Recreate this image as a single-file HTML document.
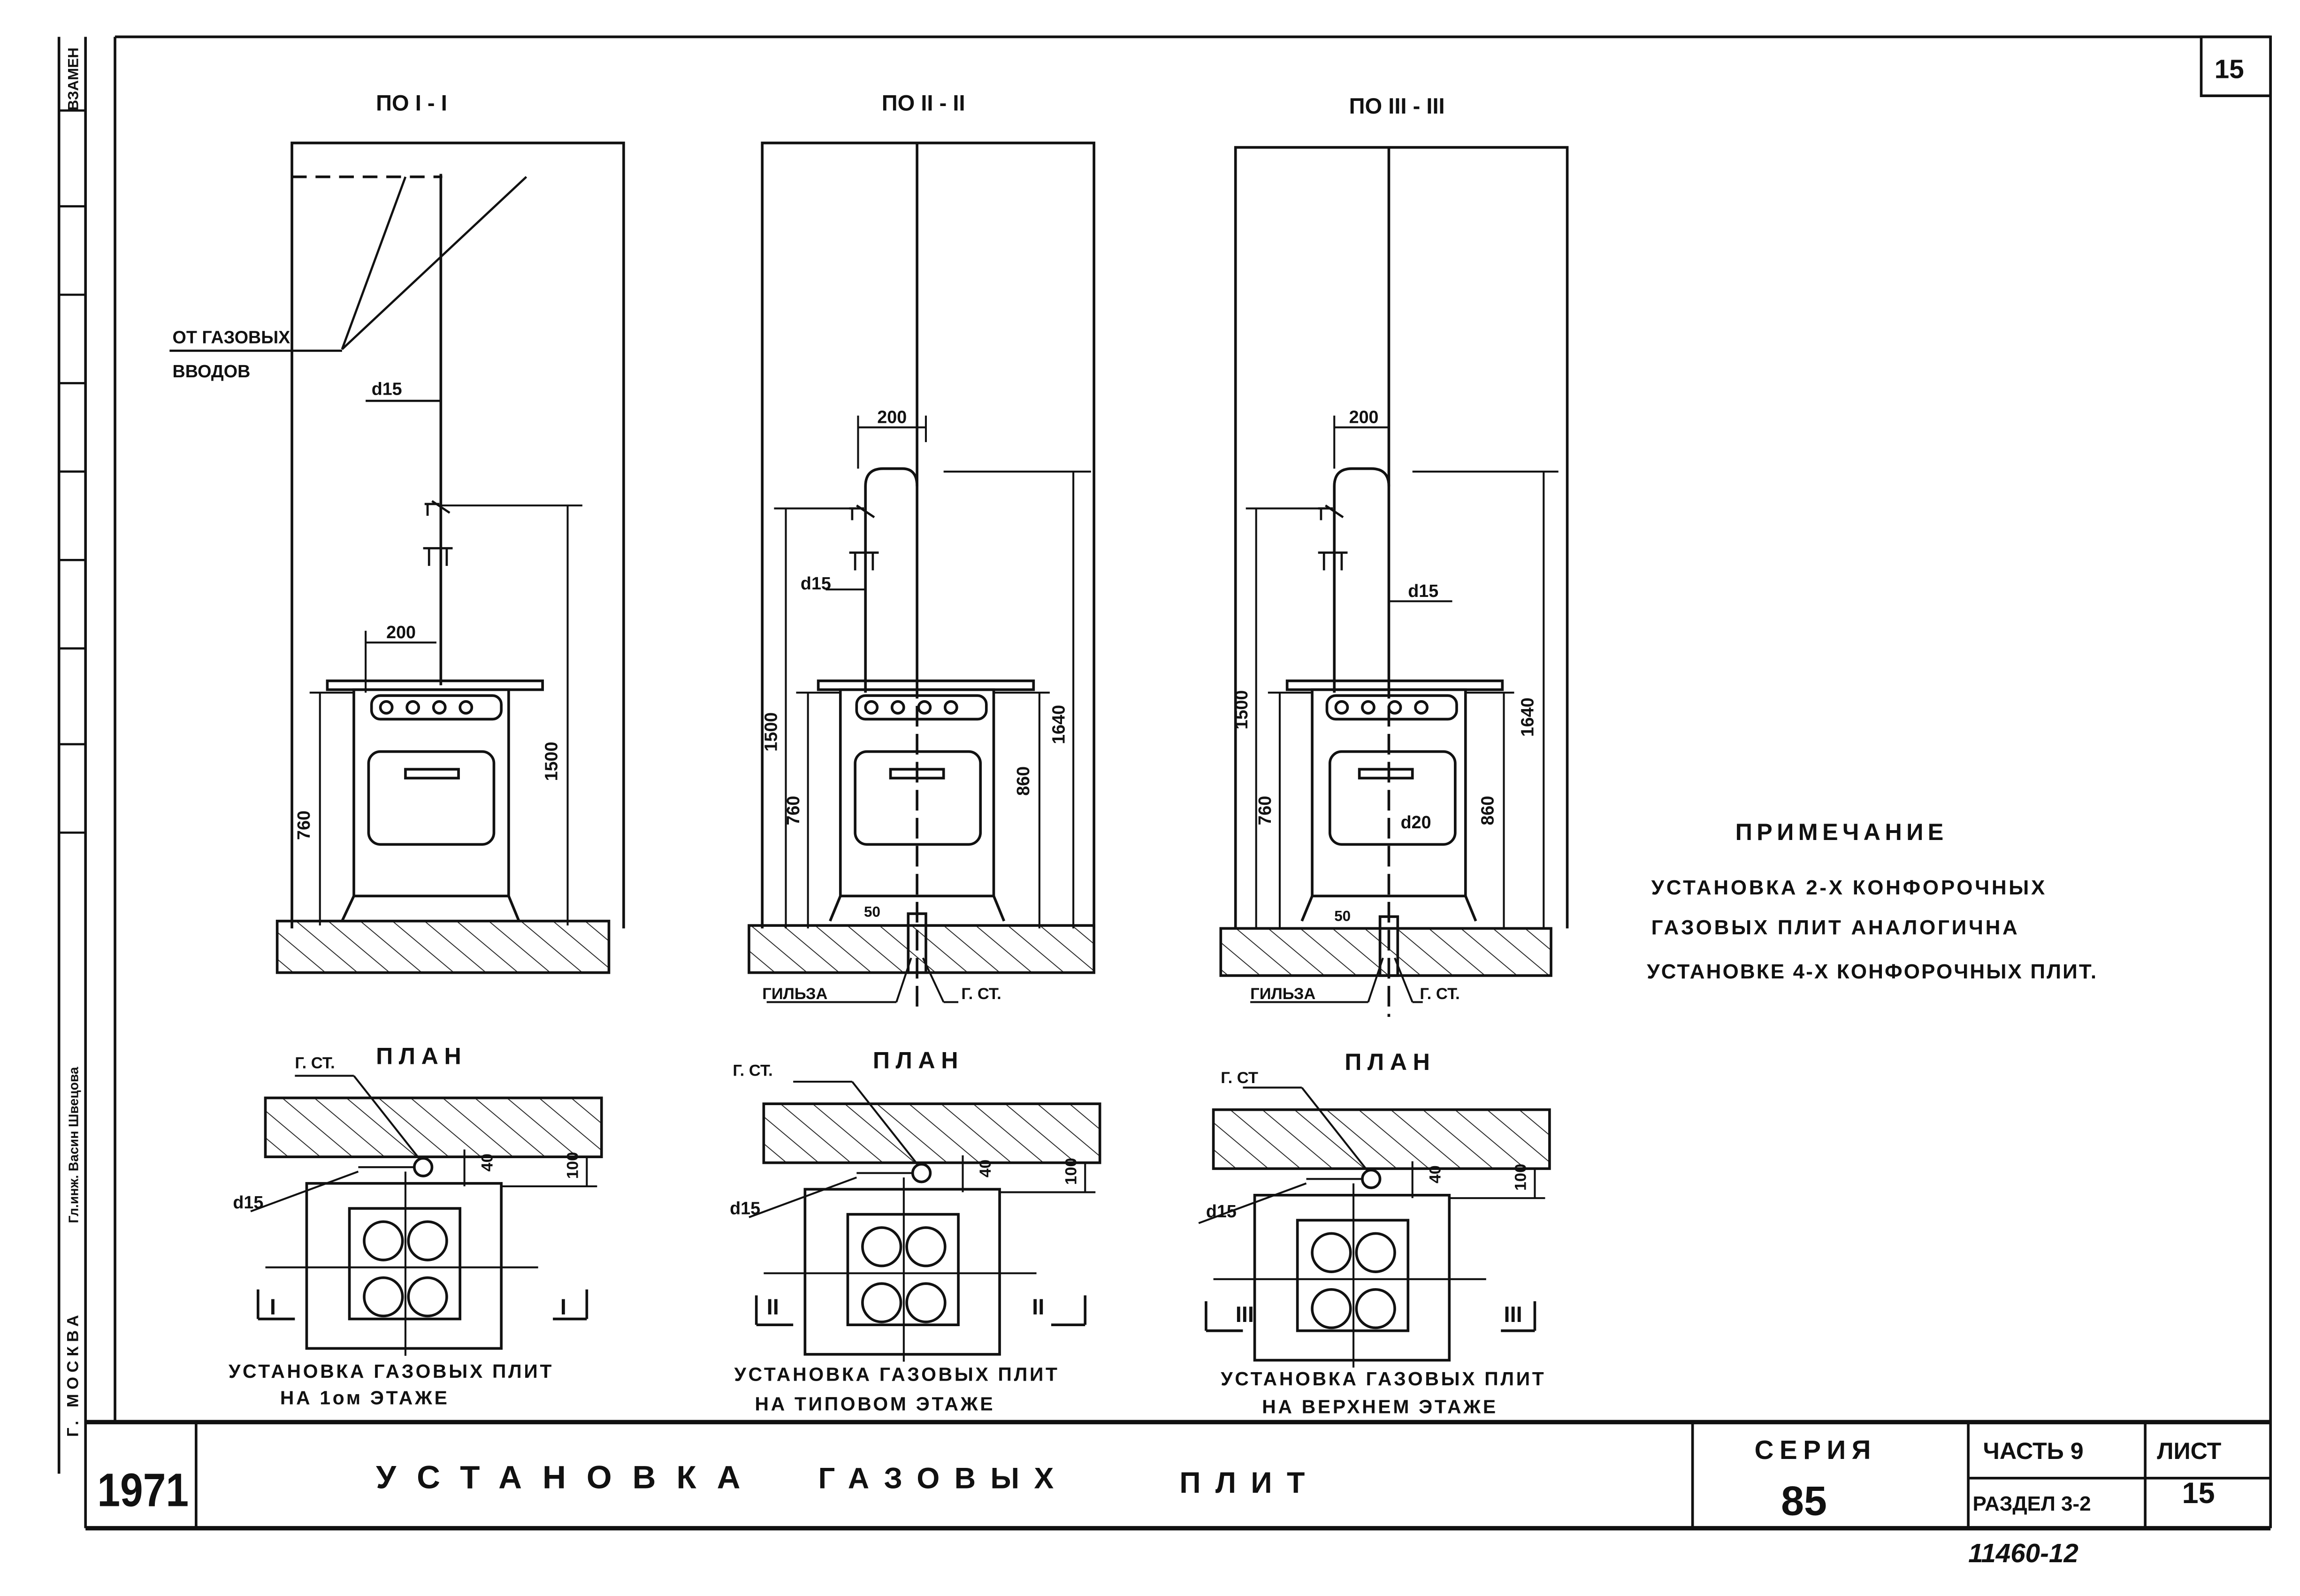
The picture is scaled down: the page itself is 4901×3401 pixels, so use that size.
<!DOCTYPE html>
<html><head><meta charset="utf-8"><style>
html,body{margin:0;padding:0;background:#fff;}
svg{display:block;}
text{font-family:"Liberation Sans","Noto Sans CJK SC",sans-serif;font-weight:bold;fill:#111;}
</style></head><body>
<svg width="4901" height="3401" viewBox="0 0 1560 1083" preserveAspectRatio="none" xmlns="http://www.w3.org/2000/svg">
<defs>
<pattern id="h" width="14" height="14" patternUnits="userSpaceOnUse" patternTransform="rotate(-50)">
<line x1="0" y1="0" x2="0" y2="14" stroke="#222" stroke-width="1.2"/></pattern>
</defs>
<rect width="1560" height="1083" fill="#fff"/>
<g fill="none" stroke="#111" stroke-width="1.8">
<line x1="78" y1="25" x2="1540" y2="25"/>
<line x1="1540" y1="25" x2="1540" y2="1037"/>
<line x1="78" y1="25" x2="78" y2="965"/>
<line x1="58" y1="25" x2="58" y2="1037"/>
<line x1="40" y1="25" x2="40" y2="1000"/>
<rect x="1493" y="25" width="47" height="40"/>
<line x1="58" y1="965" x2="1540" y2="965" stroke-width="3"/>
<line x1="58" y1="1037" x2="1540" y2="1037" stroke-width="3"/>
<line x1="133" y1="965" x2="133" y2="1037"/>
<line x1="1148" y1="965" x2="1148" y2="1037"/>
<line x1="1335" y1="965" x2="1335" y2="1037"/>
<line x1="1455" y1="965" x2="1455" y2="1037"/>
<line x1="1335" y1="1003" x2="1540" y2="1003"/>
<g stroke-width="1.5">
<line x1="40" y1="75" x2="58" y2="75"/><line x1="40" y1="140" x2="58" y2="140"/><line x1="40" y1="200" x2="58" y2="200"/>
<line x1="40" y1="260" x2="58" y2="260"/><line x1="40" y1="320" x2="58" y2="320"/><line x1="40" y1="380" x2="58" y2="380"/>
<line x1="40" y1="440" x2="58" y2="440"/><line x1="40" y1="505" x2="58" y2="505"/><line x1="40" y1="565" x2="58" y2="565"/>
</g>

<polyline points="198,630 198,97 423,97 423,630"/>
<rect x="188" y="625" width="225" height="35" fill="url(#h)"/>
<line x1="299" y1="118" x2="299" y2="465"/>
<line x1="198" y1="120" x2="300" y2="120" stroke-dasharray="10,6"/>
<line x1="232" y1="237" x2="275" y2="120" stroke-width="1.5"/>
<line x1="232" y1="237" x2="357" y2="120" stroke-width="1.5"/>
<line x1="115" y1="238" x2="232" y2="238" stroke-width="1.5"/>
<line x1="248" y1="272" x2="299" y2="272" stroke-width="1.5"/>
<path d="M288,342 h10 M290,342 v8 M293,340 l12,8" stroke-width="1.5"/>
<path d="M287,372 h20 M291,372 v12 M303,372 v12" stroke-width="1.5"/>
<rect x="222" y="462" width="146" height="6"/>
<rect x="240" y="468" width="105" height="140"/>
<rect x="252" y="472" width="88" height="16" rx="6"/>
<circle cx="262" cy="480" r="4"/><circle cx="280" cy="480" r="4"/><circle cx="298" cy="480" r="4"/><circle cx="316" cy="480" r="4"/>
<rect x="250" y="510" width="85" height="63" rx="8"/>
<rect x="275" y="522" width="36" height="6"/>
<line x1="240" y1="608" x2="232" y2="625"/><line x1="345" y1="608" x2="352" y2="625"/>
<g stroke-width="1.3">
<line x1="217" y1="470" x2="217" y2="628"/><line x1="210" y1="470" x2="240" y2="470"/>
<line x1="385" y1="343" x2="385" y2="628"/><line x1="299" y1="343" x2="395" y2="343"/>
<line x1="248" y1="436" x2="296" y2="436"/><line x1="248" y1="428" x2="248" y2="470"/>
</g>

<polyline points="517,630 517,97 742,97 742,630"/>
<rect x="508" y="628" width="234" height="32" fill="url(#h)"/>
<line x1="622" y1="97" x2="622" y2="460"/>
<path d="M587,470 V330 Q587,318 599,318 H612 Q622,318 622,330"/>
<line x1="622" y1="460" x2="622" y2="688" stroke-dasharray="14,5"/>
<rect x="616" y="620" width="12" height="40"/>
<path d="M576,345 h10 M578,345 v8 M581,343 l12,8" stroke-width="1.5"/>
<path d="M576,375 h20 M580,375 v12 M592,375 v12" stroke-width="1.5"/>
<rect x="555" y="462" width="146" height="6"/>
<rect x="570" y="468" width="104" height="140"/>
<rect x="581" y="472" width="88" height="16" rx="6"/>
<circle cx="591" cy="480" r="4"/><circle cx="609" cy="480" r="4"/><circle cx="627" cy="480" r="4"/><circle cx="645" cy="480" r="4"/>
<rect x="580" y="510" width="85" height="63" rx="8"/>
<rect x="604" y="522" width="36" height="6"/>
<line x1="570" y1="608" x2="563" y2="625"/><line x1="674" y1="608" x2="681" y2="625"/>
<g stroke-width="1.3">
<line x1="533" y1="345" x2="533" y2="630"/><line x1="525" y1="345" x2="580" y2="345"/>
<line x1="548" y1="470" x2="548" y2="630"/><line x1="540" y1="470" x2="570" y2="470"/>
<line x1="705" y1="470" x2="705" y2="630"/><line x1="674" y1="470" x2="712" y2="470"/>
<line x1="728" y1="320" x2="728" y2="630"/><line x1="640" y1="320" x2="740" y2="320"/>
<line x1="582" y1="290" x2="628" y2="290"/><line x1="582" y1="282" x2="582" y2="318"/><line x1="628" y1="282" x2="628" y2="300"/>
<line x1="560" y1="400" x2="587" y2="400"/>
<line x1="520" y1="680" x2="608" y2="680"/><line x1="608" y1="680" x2="618" y2="650"/>
<line x1="650" y1="680" x2="640" y2="680"/><line x1="640" y1="680" x2="626" y2="650"/>
</g>

<polyline points="838,630 838,100 1063,100 1063,630"/>
<rect x="828" y="630" width="224" height="32" fill="url(#h)"/>
<line x1="942" y1="100" x2="942" y2="460"/>
<path d="M905,470 V330 Q905,318 917,318 H930 Q942,318 942,330"/>
<line x1="942" y1="460" x2="942" y2="690" stroke-dasharray="14,5"/>
<rect x="936" y="622" width="12" height="40"/>
<path d="M894,345 h10 M896,345 v8 M899,343 l12,8" stroke-width="1.5"/>
<path d="M894,375 h20 M898,375 v12 M910,375 v12" stroke-width="1.5"/>
<rect x="873" y="462" width="146" height="6"/>
<rect x="890" y="468" width="104" height="140"/>
<rect x="900" y="472" width="88" height="16" rx="6"/>
<circle cx="910" cy="480" r="4"/><circle cx="928" cy="480" r="4"/><circle cx="946" cy="480" r="4"/><circle cx="964" cy="480" r="4"/>
<rect x="902" y="510" width="85" height="63" rx="8"/>
<rect x="922" y="522" width="36" height="6"/>
<line x1="890" y1="608" x2="883" y2="625"/><line x1="994" y1="608" x2="1001" y2="625"/>
<g stroke-width="1.3">
<line x1="852" y1="345" x2="852" y2="630"/><line x1="845" y1="345" x2="900" y2="345"/>
<line x1="868" y1="470" x2="868" y2="630"/><line x1="860" y1="470" x2="890" y2="470"/>
<line x1="1020" y1="470" x2="1020" y2="630"/><line x1="994" y1="470" x2="1027" y2="470"/>
<line x1="1047" y1="320" x2="1047" y2="630"/><line x1="958" y1="320" x2="1057" y2="320"/>
<line x1="905" y1="290" x2="942" y2="290"/><line x1="905" y1="282" x2="905" y2="318"/><line x1="942" y1="282" x2="942" y2="300"/>
<line x1="942" y1="408" x2="985" y2="408"/>
<line x1="848" y1="680" x2="928" y2="680"/><line x1="928" y1="680" x2="938" y2="650"/>
<line x1="965" y1="680" x2="958" y2="680"/><line x1="958" y1="680" x2="946" y2="650"/>
</g>

<g id="p1">
<rect x="180" y="745" width="228" height="40" fill="url(#h)"/>
<rect x="208" y="803" width="132" height="112"/>
<rect x="237" y="820" width="75" height="75"/>
<circle cx="260" cy="842" r="13"/><circle cx="290" cy="842" r="13"/><circle cx="260" cy="880" r="13"/><circle cx="290" cy="880" r="13"/>
<line x1="180" y1="860" x2="365" y2="860" stroke-width="1.3"/>
<line x1="275" y1="795" x2="275" y2="920" stroke-width="1.3"/>
<circle cx="287" cy="792" r="6"/>
<line x1="243" y1="792" x2="281" y2="792" stroke-width="1.3"/>
<line x1="200" y1="730" x2="240" y2="730" stroke-width="1.3"/><line x1="240" y1="730" x2="285" y2="787" stroke-width="1.3"/>
<line x1="170" y1="822" x2="243" y2="795" stroke-width="1.3"/>
<line x1="315" y1="780" x2="315" y2="805" stroke-width="1.3"/>
<line x1="398" y1="785" x2="398" y2="805" stroke-width="1.3"/>
<line x1="340" y1="805" x2="405" y2="805" stroke-width="1.3"/>
<line x1="175" y1="895" x2="200" y2="895"/><line x1="175" y1="875" x2="175" y2="895"/>
<line x1="375" y1="895" x2="398" y2="895"/><line x1="398" y1="875" x2="398" y2="895"/>
</g>
<use href="#p1" transform="translate(338,4)"/>
<use href="#p1" transform="translate(643,8)"/>
</g>

<g font-size="15">
<text x="255" y="75">ПО I - I</text>
<text x="598" y="75">ПО II - II</text>
<text x="915" y="77">ПО III - III</text>
<text x="117" y="233" font-size="12">ОТ ГАЗОВЫХ</text>
<text x="117" y="256" font-size="12">ВВОДОВ</text>
<text x="252" y="268" font-size="12">d15</text>
<text x="262" y="433" font-size="12">200</text>
<text x="595" y="287" font-size="12">200</text>
<text x="915" y="287" font-size="12">200</text>
<text x="543" y="400" font-size="12">d15</text>
<text x="955" y="405" font-size="12">d15</text>
<text x="950" y="562" font-size="12">d20</text>
<text x="517" y="678" font-size="11">ГИЛЬЗА</text>
<text x="652" y="678" font-size="11">Г. СТ.</text>
<text x="848" y="678" font-size="11">ГИЛЬЗА</text>
<text x="963" y="678" font-size="11">Г. СТ.</text>
<text x="210" y="570" font-size="12" transform="rotate(-90 210 570)">760</text>
<text x="378" y="530" font-size="12" transform="rotate(-90 378 530)">1500</text>
<text x="527" y="510" font-size="12" transform="rotate(-90 527 510)">1500</text>
<text x="542" y="560" font-size="12" transform="rotate(-90 542 560)">760</text>
<text x="698" y="540" font-size="12" transform="rotate(-90 698 540)">860</text>
<text x="722" y="505" font-size="12" transform="rotate(-90 722 505)">1640</text>
<text x="846" y="495" font-size="12" transform="rotate(-90 846 495)">1500</text>
<text x="862" y="560" font-size="12" transform="rotate(-90 862 560)">760</text>
<text x="1013" y="560" font-size="12" transform="rotate(-90 1013 560)">860</text>
<text x="1040" y="500" font-size="12" transform="rotate(-90 1040 500)">1640</text>
<text x="586" y="622" font-size="10">50</text>
<text x="905" y="625" font-size="10">50</text>
<text x="255" y="722" font-size="16" letter-spacing="4">ПЛАН</text>
<text x="592" y="725" font-size="16" letter-spacing="4">ПЛАН</text>
<text x="912" y="726" font-size="16" letter-spacing="4">ПЛАН</text>
<text x="200" y="725" font-size="11">Г. СТ.</text>
<text x="497" y="730" font-size="11">Г. СТ.</text>
<text x="828" y="735" font-size="11">Г. СТ</text>
<text x="158" y="820" font-size="12">d15</text>
<text x="495" y="824" font-size="12">d15</text>
<text x="818" y="826" font-size="12">d15</text>
<text x="334" y="795" font-size="11" transform="rotate(-90 334 795)">40</text>
<text x="392" y="800" font-size="11" transform="rotate(-90 392 800)">100</text>
<text x="672" y="799" font-size="11" transform="rotate(-90 672 799)">40</text>
<text x="730" y="804" font-size="11" transform="rotate(-90 730 804)">100</text>
<text x="977" y="803" font-size="11" transform="rotate(-90 977 803)">40</text>
<text x="1035" y="808" font-size="11" transform="rotate(-90 1035 808)">100</text>
<text x="183" y="892">I</text><text x="380" y="892">I</text>
<text x="520" y="892">II</text><text x="700" y="892">II</text>
<text x="838" y="897">III</text><text x="1020" y="897">III</text>
<text x="155" y="935" font-size="13" letter-spacing="1.5">УСТАНОВКА ГАЗОВЫХ ПЛИТ</text>
<text x="190" y="953" font-size="13" letter-spacing="1.5">НА 1ом ЭТАЖЕ</text>
<text x="498" y="937" font-size="13" letter-spacing="1.5">УСТАНОВКА ГАЗОВЫХ ПЛИТ</text>
<text x="512" y="957" font-size="13" letter-spacing="1.5">НА ТИПОВОМ ЭТАЖЕ</text>
<text x="828" y="940" font-size="13" letter-spacing="1.5">УСТАНОВКА ГАЗОВЫХ ПЛИТ</text>
<text x="856" y="959" font-size="13" letter-spacing="1.5">НА ВЕРХНЕМ ЭТАЖЕ</text>
<text x="1177" y="570" font-size="16" letter-spacing="3">ПРИМЕЧАНИЕ</text>
<text x="1120" y="607" font-size="14" letter-spacing="1.5">УСТАНОВКА 2-Х КОНФОРОЧНЫХ</text>
<text x="1120" y="634" font-size="14" letter-spacing="1.5">ГАЗОВЫХ ПЛИТ АНАЛОГИЧНА</text>
<text x="1117" y="664" font-size="14" letter-spacing="1">УСТАНОВКЕ 4-Х КОНФОРОЧНЫХ ПЛИТ.</text>
<text x="1502" y="53" font-size="18" font-weight="normal">15</text>
<text x="66" y="1022" font-size="32" font-weight="normal" textLength="62" lengthAdjust="spacingAndGlyphs">1971</text>
<text x="255" y="1010" font-size="22" letter-spacing="14">УСТАНОВКА</text>
<text x="555" y="1010" font-size="20" letter-spacing="10">ГАЗОВЫХ</text>
<text x="800" y="1013" font-size="20" letter-spacing="10">ПЛИТ</text>
<text x="1190" y="990" font-size="18" letter-spacing="4">СЕРИЯ</text>
<text x="1208" y="1028" font-size="28" font-weight="normal">85</text>
<text x="1345" y="990" font-size="16">ЧАСТЬ 9</text>
<text x="1338" y="1025" font-size="14">РАЗДЕЛ 3-2</text>
<text x="1463" y="990" font-size="16">ЛИСТ</text>
<text x="1480" y="1020" font-size="20" font-weight="normal">15</text>
<text x="1335" y="1060" font-size="18" font-style="italic" font-weight="normal">11460-12</text>
<text x="53" y="75" font-size="10" transform="rotate(-90 53 75)">ВЗАМЕН</text>
<text x="53" y="975" font-size="11" letter-spacing="3" transform="rotate(-90 53 975)">Г. МОСКВА</text>
<text x="53" y="830" font-size="9" font-weight="normal" transform="rotate(-90 53 830)">Гл.инж.  Васин  Швецова</text>
</g>
</svg>
</body></html>
